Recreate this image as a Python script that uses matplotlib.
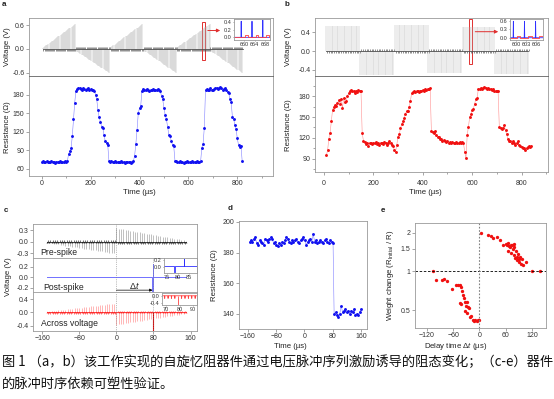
import numpy as np
import matplotlib
matplotlib.use("Agg")
import matplotlib.pyplot as plt
from matplotlib.patches import Rectangle, FancyArrowPatch
from matplotlib.ticker import FixedLocator, MultipleLocator, NullLocator

W, H = 554, 399

plt.rcParams["font.family"] = ["Liberation Sans", "DejaVu Sans"]
plt.rcParams["mathtext.fontset"] = "custom"
plt.rcParams["mathtext.rm"] = "Liberation Sans"
plt.rcParams["mathtext.it"] = "Liberation Sans:italic"

# ---------------- panel a ----------------
a_phase_start = [5, 136, 280, 415, 552, 688]
a_phase_end = [136, 280, 415, 552, 688, 822]
a_amp_from = [0.03, -0.03, 0.03, -0.03, 0.03, -0.03]
a_amp_to = [0.62, -0.60, 0.62, -0.60, 0.62, -0.60]
a_period = 4.5

a_time = np.arange(0, 825, 5)
a_res = [71, 72, 70, 71, 72, 71, 70, 71, 72, 70, 71, 69, 70, 71, 70, 72, 71, 70, 71, 72, 71, 72,
         84, 88, 93, 112, 140, 167,
         186, 189, 191, 190, 189, 188, 190, 189, 188, 189, 190, 188, 189, 187, 188, 186,
         180, 172, 155, 143, 136, 128, 126, 114, 104, 101, 99,
         72, 71, 72, 71, 70, 72, 71, 70, 71, 70, 72, 71, 70, 69, 71, 70, 71, 70, 69, 71, 72,
         81, 100, 123, 150, 158, 162, 186,
         189, 188, 187, 189, 188, 186, 187, 188, 189, 188, 187, 188, 189, 187, 185,
         178, 172, 158, 147, 140, 127, 115, 112, 105, 98, 96, 73,
         72, 70, 71, 72, 70, 71, 69, 71, 70, 72, 71, 70, 71, 72, 70, 71, 70, 72, 71, 70, 72,
         94, 100, 126, 188,
         189, 187, 188, 190, 188, 187, 189, 190, 191, 189, 190, 192, 190, 188, 189, 190, 187, 184, 182,
         173, 168, 143, 141, 130, 124, 109, 98, 95, 97, 72]

a_inset_spike_t = [658.8, 663.0, 667.2]
a_inset_spike_v = [0.42, 0.42, 0.45]
a_inset_read_t = [660.8, 665.0, 669.0]
a_inset_read_v = 0.05

# ---------------- panel b ----------------
b_phase_start = [10, 148, 288, 423, 562, 694]
b_phase_end = [148, 288, 423, 562, 694, 828]
b_amp = [0.54, -0.50, 0.55, -0.47, 0.50, -0.48]
b_period = 7

b_time = np.arange(10, 845, 5)
b_res = [95, 102, 119, 127, 144, 160, 165, 167, 166, 170, 174, 169, 176, 163, 177,
         172, 173, 180, 184, 187, 189, 188, 187, 185, 188, 186, 189, 187, 188,
         127, 116, 114, 111, 112, 109, 113, 112, 111, 113, 112, 114, 111, 112, 110,
         113, 112, 111, 114, 112, 110, 113, 115, 112, 110, 108, 103, 100,
         110, 122, 125, 134, 140, 144, 148, 155, 158, 159, 165, 173, 184, 186, 187,
         186, 187, 188, 186, 187, 188, 189, 188, 190, 189, 191, 190, 192,
         130, 128, 127, 130, 124, 122, 121, 119, 118, 116, 117, 115, 114, 115, 113,
         114, 113, 114, 112, 113, 114, 113, 112, 114, 113, 114, 112, 100, 91,
         124, 136, 150, 154, 160, 162, 169, 176, 177, 190, 191, 192, 191, 192, 193,
         192, 191, 192, 190, 191, 189, 190, 188, 187, 188, 187,
         135, 134, 133, 134, 138, 131, 125, 118, 116, 115, 112, 115, 113, 110, 112,
         115, 110, 108, 107, 105, 106, 103, 105, 107, 108, 107, 108]

b_inset_spike_t = [599.2, 602.5, 605.8]
b_inset_spike_v = [0.58, 0.58, 0.58]
b_inset_read_t = [600.8, 604.1, 607.4]
b_inset_read_v = 0.06

# ---------------- panel c ----------------
c_phase_start = [-150, 0]
c_phase_end = [0, 150]
c_pre_from = [-0.02, 0.35]
c_pre_to = [-0.30, 0.04]
c_across_from = [0.02, -0.37]
c_across_to = [0.27, -0.04]
c_period = 5
c_post_t = [-150, 76, 76, 78, 78, 80, 80, 150]
c_post_v = [0, 0, -0.26, -0.26, 0.24, 0.24, 0, 0]
c_post_spike_t = 78
c_across_spike_v = -0.55

c_post_inset_t = [73.5, 78, 78, 78.4, 78.4, 82.5, 82.5, 82.9, 82.9, 88.5]
c_post_inset_v = [0.03, 0.03, -0.15, -0.15, 0.03, 0.03, 0.23, 0.23, 0.03, 0.03]
c_across_inset_dips = [69, 71.5, 74, 76.5, 81.5, 84, 86.5, 89, 91.5]
c_across_inset_dip_v = -0.15
c_across_inset_big_t = 78.5
c_across_inset_big_v = -0.5

# ---------------- panel d ----------------
d_time_high = np.arange(-155, 85, 4)
d_res_high = [187, 188, 187, 189, 190, 186, 185, 188, 187, 186,
              185, 189, 188, 187, 189, 190, 189, 186, 187, 185,
              184, 186, 185, 187, 186, 188, 190, 189, 187, 186,
              188, 187, 188, 189, 187, 186, 188, 189, 190, 188,
              185, 187, 188, 189, 187, 192, 187, 188, 186, 187,
              188, 187, 186, 188, 189, 187, 186, 188, 187, 186]
d_time_low = np.arange(84, 162, 4)
d_res_low = [140, 141, 139, 138, 140, 145, 141, 142, 143, 141,
             142, 140, 142, 141, 143, 139, 140, 139, 141, 143]

# ---------------- panel e ----------------
e_dt_pos = [4, 19, 27, 30, 40, 47, 53, 60, 63, 65, 66, 68, 70, 72, 73, 75, 76,
            78, 79, 80, 82, 83, 85, 86, 88, 90, 91, 93, 95, 97, 100, 107, 121, 139]
e_w_pos = [2.0, 1.92, 1.9, 1.84, 1.86, 1.76, 1.6, 1.65, 1.6, 1.68, 1.45, 1.58,
           1.55, 1.62, 1.4, 1.6, 1.5, 1.65, 1.35, 1.55, 1.28, 1.45, 1.3, 1.22,
           1.38, 1.25, 1.18, 1.3, 1.15, 1.25, 1.13, 1.18, 1.0, 1.0]
e_dt_neg = [-107, -98, -86, -80, -73, -63, -53, -48, -45, -42, -40, -38, -44, -42,
            -35, -33, -30, -28, -26, -24, -32, -28, -22, -19, -15, -12, -9, -6, -3, -1]
e_w_neg = [1.0, 0.865, 0.86, 0.875, 0.85, 0.73, 0.785, 0.78, 0.79, 0.76, 0.71, 0.66,
           0.57, 0.56, 0.62, 0.58, 0.54, 0.58, 0.53, 0.52, 0.49, 0.47, 0.44, 0.45,
           0.42, 0.41, 0.42, 0.41, 0.42, 0.42]

caption_1 = "图 1 （a，b）该工作实现的自旋忆阻器件通过电压脉冲序列激励诱导的阻态变化；（c-e）器件"
caption_2 = "的脉冲时序依赖可塑性验证。"

BLUE = "#1010f0"
RED = "#f01010"
GRAY = "#ababab"


def px_axes(fig, left, top, right, bottom):
    return fig.add_axes([left / W, 1 - bottom / H, (right - left) / W, (bottom - top) / H])


def style(ax, size=5, spine="#9a9a9a"):
    for s in ax.spines.values():
        s.set_color(spine)
        s.set_linewidth(0.6)
    ax.tick_params(which="both", colors="#808080", labelcolor="#333333",
                   length=2, width=0.5, pad=1.2, labelsize=size)
    ax.tick_params(which="minor", length=1.2)


def ramp_train(ax, starts, ends, amp_from, amp_to, period, color, base_color, lw=0.4):
    for s, e, a0, a1 in zip(starts, ends, amp_from, amp_to):
        t = np.arange(s, e, period)
        amp = np.linspace(a0, a1, len(t))
        ax.vlines(t, 0, amp, color=color, lw=lw)
        ax.vlines(t + period / 2, 0, -0.045 * np.sign(amp), color=base_color, lw=0.45)
    ax.plot([starts[0], ends[-1]], [0, 0], color=base_color, lw=0.6)


def spike_inset(ax, spike_t, spike_v, read_t, read_v, xlim):
    tt, vv = [xlim[0]], [0]
    for t, v in zip(spike_t, spike_v):
        tt += [t - 0.08, t, t + 0.08]
        vv += [0, v, 0]
    tt.append(xlim[1])
    vv.append(0)
    ax.plot(tt, vv, color="#3030ff", lw=0.6)
    rt, rv = [xlim[0]], [0]
    for t in read_t:
        rt += [t - 0.5, t - 0.5, t + 0.5, t + 0.5]
        rv += [0, read_v, read_v, 0]
    rt.append(xlim[1])
    rv.append(0)
    ax.plot(rt, rv, color="#ff4040", lw=0.6)
    ax.set_xlim(xlim)


fig = plt.figure(figsize=(W / 100, H / 100), dpi=100)

# ====== a ======
ax_av = px_axes(fig, 29, 18, 273, 76)
ramp_train(ax_av, a_phase_start, a_phase_end, a_amp_from, a_amp_to, a_period, GRAY, "#505050", lw=0.35)
ax_av.set_xlim(-52, 946)
ax_av.set_ylim(-0.68, 0.78)
ax_av.set_yticks([-0.6, 0.0, 0.6])
ax_av.set_yticklabels(["-0.6", "0.0", "0.6"])
ax_av.xaxis.set_major_locator(MultipleLocator(100))
ax_av.tick_params(axis="x", labelbottom=False)
style(ax_av)
ax_av.add_patch(Rectangle((655.6, -0.265), 12.4, 0.948, fill=False, ec="#e03030", lw=0.7))

ax_ar = px_axes(fig, 29, 76, 273, 176)
ax_ar.plot(a_time, a_res, color="#8080ff", lw=0.4)
ax_ar.plot(a_time, a_res, "o", color=BLUE, ms=2.1, mew=0)
ax_ar.set_xlim(-52, 946)
ax_ar.set_ylim(48, 210)
ax_ar.set_yticks([60, 90, 120, 150, 180])
ax_ar.xaxis.set_major_locator(FixedLocator([0, 200, 400, 600, 800]))
ax_ar.xaxis.set_minor_locator(MultipleLocator(100))
style(ax_ar)
ax_ar.spines["top"].set_color("#606060")

ax_ai = px_axes(fig, 234, 19, 270, 40)
spike_inset(ax_ai, a_inset_spike_t, a_inset_spike_v, a_inset_read_t, a_inset_read_v, (656, 670))
ax_ai.set_ylim(-0.07, 0.48)
ax_ai.set_yticks([0.0, 0.2, 0.4])
ax_ai.set_xticks([660, 664, 668])
style(ax_ai, size=4)
ax_ai.tick_params(length=1, pad=0.6)

# ====== b ======
ax_bv = px_axes(fig, 315, 18, 548, 76)
ramp_train(ax_bv, b_phase_start, b_phase_end, b_amp, b_amp, b_period, "#b8b8b8", "#505050", lw=0.35)
ax_bv.set_xlim(-36, 907)
ax_bv.set_ylim(-0.53, 0.70)
ax_bv.set_yticks([-0.4, 0.0, 0.4])
ax_bv.set_yticklabels(["-0.4", "0.0", "0.4"])
ax_bv.xaxis.set_major_locator(MultipleLocator(100))
ax_bv.tick_params(axis="x", labelbottom=False)
style(ax_bv)
ax_bv.add_patch(Rectangle((588.7, -0.274), 12.2, 0.957, fill=False, ec="#e03030", lw=0.7))

ax_br = px_axes(fig, 315, 76, 548, 172)
ax_br.plot(b_time, b_res, color="#ff9090", lw=0.4)
ax_br.plot(b_time, b_res, "o", color=RED, ms=2.1, mew=0)
ax_br.set_xlim(-36, 907)
ax_br.set_ylim(71, 209)
ax_br.set_yticks([90, 120, 150, 180])
ax_br.yaxis.set_minor_locator(MultipleLocator(15))
ax_br.xaxis.set_major_locator(FixedLocator([0, 200, 400, 600, 800]))
ax_br.xaxis.set_minor_locator(MultipleLocator(100))
style(ax_br)
ax_br.tick_params(axis="x", pad=3.5)
ax_br.spines["top"].set_color("#606060")

ax_bi = px_axes(fig, 510, 19, 543, 40)
spike_inset(ax_bi, b_inset_spike_t, b_inset_spike_v, b_inset_read_t, b_inset_read_v, (598.2, 608))
ax_bi.set_ylim(-0.08, 0.66)
ax_bi.set_yticks([0.0, 0.3, 0.6])
ax_bi.set_xticks([600, 603, 606])
style(ax_bi, size=4)
ax_bi.tick_params(length=1, pad=0.6)

# arrows from the red boxes to the insets
for x0, x1, y in [(205, 223, 30.5), (472.5, 501, 31.7)]:
    fig.add_artist(FancyArrowPatch(
        (x0 / W, 1 - y / H), (x1 / W, 1 - y / H), transform=fig.transFigure,
        arrowstyle="-|>", mutation_scale=5, lw=0.7, color="#e03030"))

# ====== c ======
ax_c1 = px_axes(fig, 33, 224, 197, 258)
ax_c2 = px_axes(fig, 33, 258, 197, 292)
ax_c3 = px_axes(fig, 33, 292, 197, 331)

ramp_train(ax_c1, c_phase_start, c_phase_end, c_pre_from, c_pre_to, c_period, "#909090", "#202020")
ax_c1.plot(np.arange(-150, 151, 5), np.zeros(61), "^", color="#202020", ms=1.3, mew=0)
ax_c1.set_ylim(-0.42, 0.46)
ax_c1.set_yticks([-0.3, 0.0, 0.3])
ax_c1.set_yticklabels(["-0.3", "0.0", "0.3"])

ax_c2.plot(c_post_t, c_post_v, color="#7070ff", lw=0.7)
ax_c2.set_ylim(-0.28, 0.36)
ax_c2.set_yticks([-0.2, 0.0, 0.2])
ax_c2.set_yticklabels(["-0.2", "0.0", "0.2"])
ax_c2.annotate("", xy=(c_post_spike_t, -0.245), xytext=(0, -0.245),
               arrowprops=dict(arrowstyle="-|>", lw=0.5, color="black", mutation_scale=4,
                               shrinkA=0, shrinkB=0))

ramp_train(ax_c3, c_phase_start, c_phase_end, c_across_from, c_across_to, c_period, "#ff8080", "#ff2020")
ax_c3.plot(np.arange(-150, 151, 5), np.zeros(61), "^", color="#ff2020", ms=1.3, mew=0)
ax_c3.vlines([c_post_spike_t], 0, c_across_spike_v, color="#e00000", lw=0.8)
ax_c3.set_ylim(-0.56, 0.62)
ax_c3.set_yticks([-0.4, 0.0, 0.4])
ax_c3.set_yticklabels(["-0.4", "0.0", "0.4"])

for ax in (ax_c1, ax_c2, ax_c3):
    ax.set_xlim(-180, 174)
    ax.axvline(0, color="#808080", lw=0.5, ls=":")
    ax.set_xticks([-160, -80, 0, 80, 160])
    style(ax)
for ax in (ax_c1, ax_c2):
    ax.tick_params(axis="x", bottom=False, labelbottom=False)
    ax.spines["bottom"].set_color("#606060")
for ax in (ax_c2, ax_c3):
    ax.axvline(c_post_spike_t, color="#808080", lw=0.5, ls=":")

ax_c1.text(-165, -0.27, "Pre-spike", fontsize=6.2, color="#222222", va="center")
ax_c2.text(-158, -0.19, "Post-spike", fontsize=6.2, color="#222222", va="center")
ax_c3.text(-162, -0.34, "Across voltage", fontsize=6.2, color="#222222", va="center")
ax_c2.text(38, -0.15, r"$\Delta t$", fontsize=6.5, color="#222222", ha="center", va="center")

ax_ci2 = px_axes(fig, 164, 258, 196.5, 273)
ax_ci2.plot(c_post_inset_t, c_post_inset_v, color="#3030ff", lw=0.6)
ax_ci2.set_xlim(73.5, 88.5)
ax_ci2.set_ylim(-0.18, 0.25)
ax_ci2.set_yticks([0.0, 0.2])
ax_ci2.set_xticks([75, 80, 85])
style(ax_ci2, size=4)
ax_ci2.tick_params(length=1, pad=0.6)

ax_ci3 = px_axes(fig, 162, 293, 196.5, 304.5)
rt, rv = [67], [0]
for t in c_across_inset_dips:
    rt += [t - 0.15, t, t + 0.15]
    rv += [0, c_across_inset_dip_v, 0]
rt.append(92.5)
rv.append(0)
ax_ci3.plot(rt, rv, color="#ff4040", lw=0.6)
ax_ci3.vlines([c_across_inset_big_t], 0, c_across_inset_big_v, color="#ff4040", lw=0.6)
ax_ci3.set_xlim(67, 92.5)
ax_ci3.set_ylim(-0.5, 0.16)
ax_ci3.set_yticks([-0.4, 0.0])
ax_ci3.set_yticklabels(["-0.4", "0.0"])
ax_ci3.set_xticks([70, 80, 90])
style(ax_ci3, size=4)
ax_ci3.tick_params(length=1, pad=0.6)

# ====== d ======
ax_d = px_axes(fig, 239, 221, 367, 329)
d_t = np.concatenate([d_time_high, d_time_low])
d_r = d_res_high + d_res_low
ax_d.plot(d_t, d_r, color="#8080ff", lw=0.4)
ax_d.plot(d_t, d_r, "o", color=BLUE, ms=2.1, mew=0)
ax_d.set_xlim(-185, 177)
ax_d.set_ylim(130, 200.6)
ax_d.set_xticks([-160, -80, 0, 80, 160])
ax_d.set_yticks([140, 160, 180, 200])
style(ax_d)

# ====== e ======
ax_e = px_axes(fig, 415, 223, 546, 328)
ax_e.plot(e_dt_pos + e_dt_neg, e_w_pos + e_w_neg, "o", color=RED, ms=2.4, mew=0)
ax_e.set_yscale("log")
ax_e.axhline(1, color="black", lw=0.6, ls=(0, (3, 2)))
ax_e.axvline(0, color="#808080", lw=0.8, ls=(0, (1.5, 1.5)))
ax_e.set_xlim(-147, 152)
ax_e.set_ylim(0.362, 2.39)
ax_e.set_xticks([-120, -60, 0, 60, 120])
ax_e.yaxis.set_major_locator(FixedLocator([0.5, 1, 1.5, 2]))
ax_e.yaxis.set_minor_locator(NullLocator())
ax_e.set_yticklabels(["0.5", "1", "1.5", "2"])
style(ax_e)

# ====== labels ======
lab = dict(fontsize=5.6, color="#222222", ha="center", va="center")
fig.text(8 / W, 1 - 47 / H, "Voltage (V)", rotation=90, **lab)
fig.text(8 / W, 1 - 127 / H, "Resistance (Ω)", rotation=90, **lab)
fig.text(288.5 / W, 1 - 47 / H, "Voltage (V)", rotation=90, **lab)
fig.text(288.5 / W, 1 - 125 / H, "Resistance (Ω)", rotation=90, **lab)
fig.text(9 / W, 1 - 277 / H, "Voltage (V)", rotation=90, **lab)
fig.text(215 / W, 1 - 275 / H, "Resistance (Ω)", rotation=90, **lab)
fig.text(391 / W, 1 - 275 / H, r"Weight change (R$_{\mathrm{Initial}}$ / R)", rotation=90, **lab)
fig.text(139 / W, 1 - 192 / H, "Time (µs)", **lab)
fig.text(425 / W, 1 - 192 / H, "Time (µs)", **lab)
fig.text(290 / W, 1 - 347 / H, "Time (µs)", **lab)
fig.text(456 / W, 1 - 347 / H, r"Delay time $\Delta t$ (µs)", **lab)

pan = dict(fontsize=5.8, fontweight="bold", color="#222222", ha="center", va="center")
for letter, x, y in [("a", 4, 5), ("b", 287, 5), ("c", 6, 210), ("d", 230, 208.5), ("e", 383, 210)]:
    fig.text(x / W, 1 - y / H, letter, **pan)

cap = dict(fontsize=9.55, color="#111111", family=["Noto Sans CJK SC", "DejaVu Sans"], va="center")
fig.text(2 / W, 1 - 362 / H, caption_1, **cap)
fig.text(2 / W, 1 - 384 / H, caption_2, **cap)

fig.savefig("out.png", dpi=100)
